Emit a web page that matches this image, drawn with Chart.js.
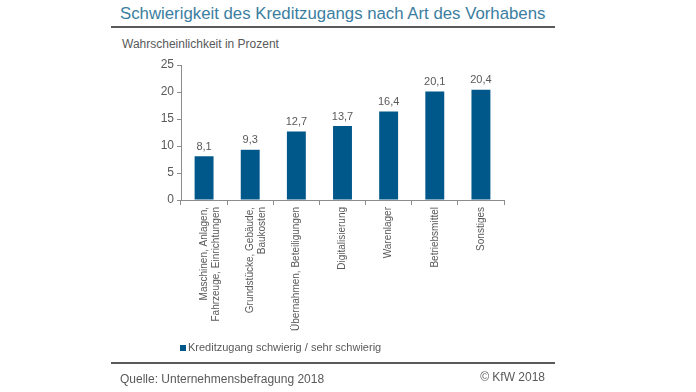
<!DOCTYPE html>
<html>
<head>
<meta charset="utf-8">
<script src="https://cdn.jsdelivr.net/npm/chart.js@4"></script>
<style>
    body { margin: 0; width: 696px; height: 392px; background: #fff; overflow: hidden; font-family: "Liberation Sans", Arial, sans-serif; }
    #wrap { position: relative; width: 696px; height: 392px; }
    canvas { position: absolute; left: 0; top: 0; }
    .txt { position: absolute; white-space: nowrap; color: #595959; }
    .rule { position: absolute; left: 111px; width: 444px; height: 2px; background: #5a5a5a; }
</style>
</head>
<body>
<div id="wrap">
    <div class="txt" style="left:120px; top:4px; font-size:16.8px; color:#3b7ea1;">Schwierigkeit des Kreditzugangs nach Art des Vorhabens</div>
    <div class="rule" style="top:26px;"></div>
    <div class="txt" style="left:122px; top:37px; font-size:12px;">Wahrscheinlichkeit in Prozent</div>
    <canvas id="chart" width="696" height="392"></canvas>
    <div style="position:absolute; left:180px; top:345px; width:6px; height:6px; background:#00578a;"></div>
    <div class="txt" style="left:188px; top:341px; font-size:11px;">Kreditzugang schwierig / sehr schwierig</div>
    <div class="rule" style="top:362px;"></div>
    <div class="txt" style="left:120px; top:372px; font-size:12px;">Quelle: Unternehmensbefragung 2018</div>
    <div class="txt" style="right:151px; top:370px; font-size:12px;">© KfW 2018</div>
</div>
<script>
// Categories and values
const categories = [
    ['Maschinen, Anlagen,', 'Fahrzeuge, Einrichtungen'],
    ['Grundstücke, Gebäude,', 'Baukosten'],
    'Übernahmen, Beteiligungen',
    'Digitalisierung',
    'Warenlager',
    'Betriebsmittel',
    'Sonstiges'
];
const values = [8.1, 9.3, 12.7, 13.7, 16.4, 20.1, 20.4];
const seriesName = 'Kreditzugang schwierig / sehr schwierig';
const yTicks = [0, 5, 10, 15, 20, 25];

const barColor = '#00578a';
const textColor = '#595959';
const axisColor = '#8c8c8c';

// Value labels above the bars, German decimal comma
const valueLabels = {
    id: 'valueLabels',
    afterDatasetsDraw(chart) {
        const ctx = chart.ctx;
        const meta = chart.getDatasetMeta(0);
        ctx.save();
        ctx.font = '11px "Liberation Sans", Arial, sans-serif';
        ctx.fillStyle = textColor;
        ctx.textAlign = 'center';
        ctx.textBaseline = 'bottom';
        meta.data.forEach((bar, i) => {
            ctx.fillText(values[i].toFixed(1).replace('.', ','), bar.x, bar.y - 4);
        });
        ctx.restore();
    }
};

const ctx = document.getElementById('chart').getContext('2d');
new Chart(ctx, {
    type: 'bar',
    data: {
        labels: categories,
        datasets: [{
            label: seriesName,
            data: values,
            backgroundColor: barColor,
            categoryPercentage: 1,
            barPercentage: 0.41
        }]
    },
    options: {
        responsive: false,
        animation: false,
        layout: {
            padding: { left: 0, right: 192, top: 65, bottom: 0 }
        },
        plugins: {
            legend: { display: false },
            tooltip: { enabled: false }
        },
        scales: {
            x: {
                afterFit(scale) { scale.height = 192; },
                grid: {
                    offset: true,
                    drawOnChartArea: false,
                    tickLength: 5,
                    color: axisColor
                },
                border: { color: axisColor },
                ticks: {
                    minRotation: 90,
                    maxRotation: 90,
                    autoSkip: false,
                    padding: 2,
                    color: textColor,
                    font: { family: '"Liberation Sans", Arial, sans-serif', size: 10 }
                }
            },
            y: {
                min: 0,
                max: 25,
                afterFit(scale) { scale.width = 181; },
                afterBuildTicks(scale) { scale.ticks = yTicks.map(v => ({ value: v })); },
                grid: {
                    drawOnChartArea: false,
                    tickLength: 4,
                    color: axisColor
                },
                border: { color: axisColor },
                ticks: {
                    padding: 3,
                    color: textColor,
                    font: { family: '"Liberation Sans", Arial, sans-serif', size: 12 }
                }
            }
        }
    },
    plugins: [valueLabels]
});
</script>
</body>
</html>
